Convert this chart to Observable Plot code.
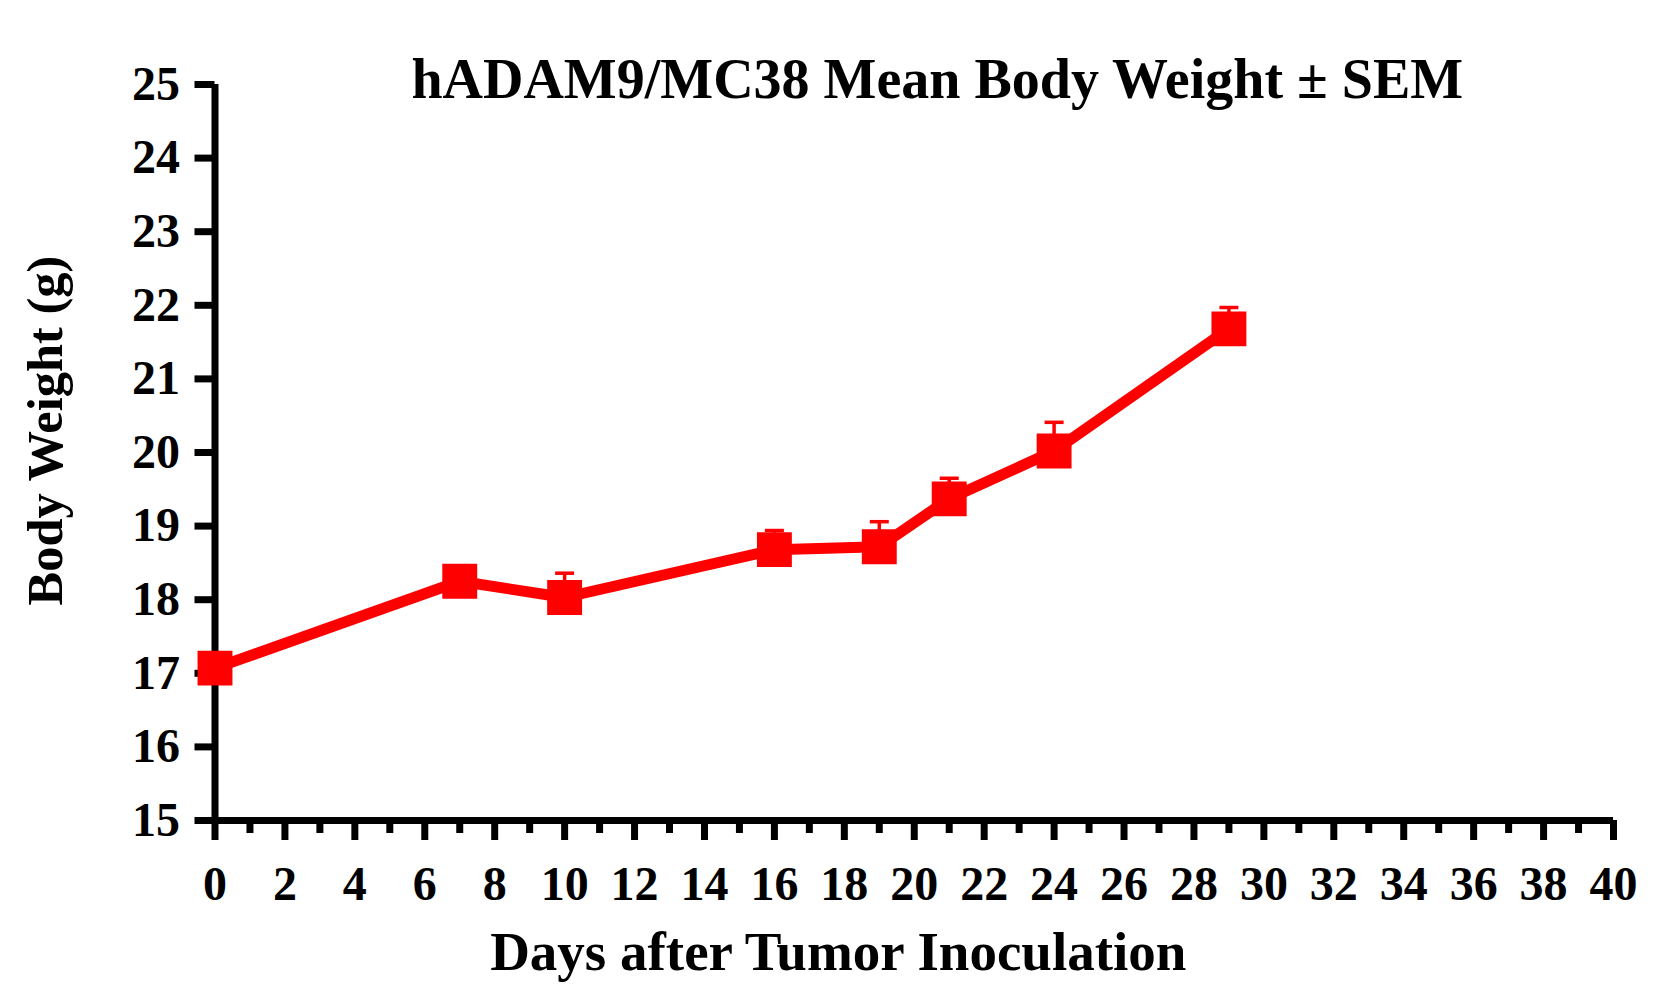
<!DOCTYPE html>
<html>
<head>
<meta charset="utf-8">
<script src="https://cdn.jsdelivr.net/npm/d3@7"></script>
<script src="https://cdn.jsdelivr.net/npm/@observablehq/plot@0.6"></script>
<style>
  html, body { margin: 0; padding: 0; background: #fff; }
  #chart svg { display: block; }
</style>
</head>
<body>
<div id="chart"></div>
<script>
// ---- data ----
const days  = [0, 7, 10, 16, 19, 21, 24, 29];
const means = [17.07, 18.25, 18.03, 18.68, 18.72, 19.37, 20.02, 21.68];
const sems  = [0.12, 0.18, 0.33, 0.26, 0.34, 0.28, 0.39, 0.29];
const xMajorTicks = d3.range(0, 41, 2);
const xMinorTicks = d3.range(1, 40, 2);
const yTicks = d3.range(15, 26, 1);
const title = "hADAM9/MC38 Mean Body Weight \u00B1 SEM";
const xLabel = "Days after Tumor Inoculation";
const yLabel = "Body Weight (g)";

const data = days.map((d, i) => ({day: d, mean: means[i], sem: sems[i]}));

const font = "'Liberation Serif', 'Times New Roman', Times, serif";
const red = "#FF0000";
const capSymbol = {
  draw(ctx, size) {
    const r = Math.sqrt(size / Math.PI);
    ctx.moveTo(-r, 0);
    ctx.lineTo(r, 0);
  }
};

const chart = Plot.plot({
  width: 1678,
  height: 994,
  marginLeft: 214.5,
  marginRight: 65,
  marginTop: 84,
  marginBottom: 174,
  style: {fontFamily: font, fontWeight: "bold", color: "#000", background: "#fff"},
  x: {domain: [0, 40]},
  y: {domain: [15, 25]},
  marks: [
    // axes lines
    Plot.ruleX([0], {stroke: "#000", strokeWidth: 7}),
    Plot.ruleY([15], {stroke: "#000", strokeWidth: 7}),
    Plot.axisY({ticks: yTicks, tickSize: 20, tickPadding: 15, strokeWidth: 7,
      fontSize: 48, fontFamily: font, fontWeight: "bold", label: null, tickFormat: d => String(d)}),
    Plot.axisX({ticks: xMajorTicks, tickSize: 20, tickPadding: 25, strokeWidth: 7,
      fontSize: 48, fontFamily: font, fontWeight: "bold", label: null, tickFormat: d => String(d)}),
    Plot.axisX({ticks: xMinorTicks, tickSize: 13, strokeWidth: 7, label: null, tickFormat: () => ""}),
    // series
    Plot.line(data, {x: "day", y: "mean", stroke: red, strokeWidth: 11}),
    Plot.ruleX(data, {x: "day", y1: "mean", y2: d => d.mean + d.sem, stroke: red, strokeWidth: 3.5}),
    Plot.dot(data, {x: "day", y: "mean", symbol: "square", r: 19.7, fill: red, stroke: null}),
    Plot.dot(data, {x: "day", y: d => d.mean + d.sem, symbol: capSymbol, r: 9.5, stroke: red, strokeWidth: 3.5, fill: "none"}),
    // texts
    Plot.text([title], {frameAnchor: "top", lineAnchor: "middle", textAnchor: "middle", dx: 23, dy: -4,
      fontSize: 56, fontFamily: font, fontWeight: "bold", fill: "#000"}),
    Plot.text([xLabel], {frameAnchor: "bottom", lineAnchor: "middle", textAnchor: "middle", dx: -76, dy: 132,
      fontSize: 55, fontFamily: font, fontWeight: "bold", fill: "#000"}),
    Plot.text([yLabel], {frameAnchor: "left", lineAnchor: "middle", textAnchor: "middle", rotate: -90, dx: -169, dy: -22,
      fontSize: 50.5, fontFamily: font, fontWeight: "bold", fill: "#000"})
  ]
});
document.getElementById("chart").appendChild(chart);
</script>
</body>
</html>
